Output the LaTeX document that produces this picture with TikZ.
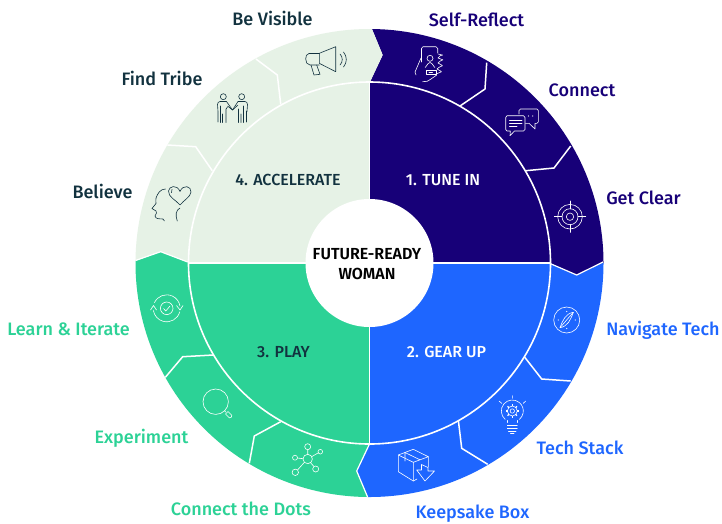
\documentclass[tikz,border=0pt]{standalone}
\usepackage{fontspec}
\setmainfont{Fira Sans}
\newfontfamily\lblfont{Fira Sans Medium}
\newfontfamily\boldfont{Fira Sans SemiBold}
\definecolor{navy}{HTML}{170078}
\definecolor{bluex}{HTML}{1E66FF}
\definecolor{greenx}{HTML}{2CD296}
\definecolor{palex}{HTML}{E6F2E6}
\definecolor{inkx}{HTML}{12323F}
\tikzset{
  sep/.style={draw=white,line width=1.5pt,line join=miter},
  icw/.style={draw=white,line width=.6pt,line cap=round,line join=round},
  icd/.style={draw=inkx,line width=.6pt,line cap=round,line join=round},
  lbl/.style={anchor=base,inner sep=0pt,font=\lblfont\fontsize{18}{20}\selectfont},
  sect/.style={anchor=base,inner sep=0pt,font=\lblfont\fontsize{16}{18}\selectfont},
  mid/.style={anchor=base,inner sep=0pt,font=\boldfont\fontsize{16}{18}\selectfont,text=black},
}
\begin{document}
\begin{tikzpicture}[x=1pt,y=-1pt]
\useasboundingbox (0,0) rectangle (722,523);
\fill[white] (0,0) rectangle (722,523);
\coordinate (c) at (369.5,263);
% outer ring
\begin{scope}
\clip (c) circle[radius=234pt];
\fill[navy] (370,82)--(382.7,55)--(372,29)--(371,0)--(700,0)--(700,263)--(602.7,263)--(576.7,275)--(550,263)--(c)--cycle;
\fill[bluex] (550,263)--(576.7,275)--(602.7,263)--(700,263)--(700,523)--(368,523)--(368,497)--(356.7,471)--(369,445)--(c)--cycle;
\fill[greenx] (369,445)--(356.7,471)--(368,497)--(368,523)--(0,523)--(0,261)--(135,261)--(160.7,251.7)--(187.7,262)--(c)--cycle;
\fill[palex] (187.7,262)--(160.7,251.7)--(135,261)--(0,261)--(0,0)--(371,0)--(372,29)--(382.7,55)--(370,82)--(c)--cycle;
\draw[sep] (486.7,62.7)--(485,89)--(460,106);
\draw[sep] (570.7,146)--(554,168)--(525.7,170.7);
\draw[sep] (570.7,381)--(541.7,379)--(524.3,356.7);
\draw[sep] (487.7,464.3)--(461.7,448.3)--(458.3,420);
\draw[sep] (165,377.7)--(182.7,356.7)--(213.3,355);
\draw[sep] (249.3,463.3)--(254.3,436)--(280.7,421.7);
\draw[sep] (167.3,145)--(195.7,146.7)--(212.3,170.7);
\draw[sep] (256,59)--(277.3,75)--(280.7,104);
\draw[sep,line width=1.2pt] (603,262)--(576.7,275)--(550,263.5);
\draw[sep,line width=1.2pt] (368,498)--(356.7,471)--(369,445);
\draw[sep,line width=1.2pt] (134,261)--(160.7,251.7)--(187.7,262);
\end{scope}
% inner quadrants
\begin{scope}
\clip (c) circle[radius=181pt];
\fill[navy] (c) rectangle (560,70);
\fill[bluex] (c) rectangle (560,450);
\fill[greenx] (c) rectangle (180,450);
\fill[palex] (c) rectangle (180,70);
\end{scope}
\draw[white,line width=1.6pt] (c) circle[radius=181pt];
\draw[white,line width=1.5pt] (369.5,82)--(369.5,444);
\draw[white,line width=1.5pt] (188.5,263)--(550.5,263);
\fill[white] (c) circle[radius=64pt];
% phone icon
\draw[icw] (421.5,62)--(421.5,48.5) to[out=-90,in=180] (423,46.7)--(436,46.7) to[out=0,in=-90] (437.7,48.5)--(437.7,53);
\draw[icw] (425,67) to[out=-90,in=180] (430,62.5) to[out=0,in=-90] (435,67);
\draw[icw] (430,58.3) circle[radius=3pt];
\draw[icw] (426,70.5)--(436,70.5)--(436,74)--(426,74)--cycle (429,72.3)--(432.5,72.3);
\draw[icw] (438,54) to[out=0,in=-30] (442.5,55) to[out=150,in=30] (438,58) to[out=-30,in=0] (442.5,60) to[out=180,in=30] (438,63) to[out=-30,in=0] (442,66) to[out=180,in=30] (437,69) to[out=-30,in=0] (441,72) to[out=180,in=0] (436,74);
\draw[icw] (421,58)--(415,72)--(416,75);
\draw[icw] (422.7,81.7) to[out=0,in=-135] (431,79) (431,79)--(436.7,75);
% chat icon
\draw[icw] (507,115.7)--(523.5,115.7) to[out=0,in=90] (525,117.5)--(525,129.5) to[out=-90,in=0] (523.5,131)--(514.5,131)--(510,135.7)--(510.3,131)--(507,131) to[out=180,in=-90] (505.7,129.5)--(505.7,117.5) to[out=90,in=180] cycle;
\draw[icw] (509.5,120)--(522,120) (509.5,123.3)--(522,123.3) (509.5,126.7)--(517,126.7);
\draw[icw] (519,114)--(519,110.5) to[out=90,in=180] (520.5,109)--(537,109) to[out=0,in=90] (538.3,110.5)--(538.3,122) to[out=-90,in=0] (537,123.3)--(535,123.3)--(535,129)--(529,123.3)--(525.5,123.3);
\fill[white] (528.5,116) circle[radius=.6pt] (532.7,116) circle[radius=.6pt];
% target icon
\draw[icw] (570,216.7) circle[radius=12.3pt] (570,216.7) circle[radius=8pt] (570,216.7) circle[radius=3.7pt];
\draw[icw] (570,201)--(570,209) (570,224.5)--(570,232.4) (554.3,216.7)--(562,216.7) (578,216.7)--(585.7,216.7);
% compass icon
\draw[icw] (566.7,320) circle[radius=13pt];
\draw[icw] (573.3,312.3) to[out=-170,in=70] (560,327.7) to[out=10,in=-110] cycle;
\draw[icw] (573.3,312.3)--(560,327.7);
\fill[white] (566.7,311.5) circle[radius=.6pt] (566.7,328.5) circle[radius=.6pt] (558.2,320) circle[radius=.6pt] (575.2,320) circle[radius=.6pt];
% bulb icon
\draw[icw] (507.3,422.5)--(507.3,420.5);
\draw[icw] (517.3,422.5)--(517.3,420.5);
\draw[icw] (512.3,411)++(-130:11pt) arc[start angle=230,delta angle=-280,radius=11pt];
\draw[icw] (512.3,411) circle[radius=5pt] (512.3,411) circle[radius=2.2pt];
\foreach \a in {0,45,...,315}{\draw[draw=white,line width=1.2pt] (512.3,411)++(\a:4.6pt)--++(\a:2pt);}
\draw[icw] (507.3,425)--(517.3,425) (507.3,428.3)--(517.3,428.3) (508.5,431)--(516,431) (510.5,433)--(514,433);
\draw[icw] (512.3,395.7)--(512.3,398.3) (499,401)--(501.7,403.3) (525.7,401)--(523.3,403.3);
% box icon
\draw[icw] (398.3,455)--(413.3,449.3)--(428.3,456.7)--(413.3,462.3)--cycle;
\draw[icw] (398.3,455)--(398.3,471.7)--(413.3,481)--(413.3,462.3) (428.3,456.7)--(428.3,467);
\draw[icw] (405,452.5)--(420,459.8) (405,452.5)--(405,461) (413.3,481)--(417,479);
\draw[icw] (416.7,470)--(421.5,470)--(421.5,464.5)--(428,467.5)--(428,471)--(434.5,471)--(425,481)--cycle;
% cycle icon
\draw[icw] (166.7,308.3) circle[radius=6.3pt];
\draw[icw] (166.7,308.3)++(155:13.5pt) arc[start angle=155,end angle=10,radius=13.5pt];
\draw[icw] (166.7,308.3)++(-15:13.5pt) arc[start angle=-15,end angle=-170,radius=13.5pt];
\draw[icw] (150.5,310)--(153.5,305.5)--(156.5,310);
\draw[icw] (176.5,305.5)--(180,310)--(183,305.5);
\draw[icw] (163.5,308.5)--(165.8,311)--(170,306);
% magnifier icon
\draw[icw] (215.7,401.7) circle[radius=12.7pt];
\draw[icw] (224.5,410.7)--(226,412.2);
\draw[icw] (225.5,414)--(228,411.5)--(231.8,415.3) to[out=-45,in=-45] (229.3,417.8)--cycle;
% network icon
\draw[icw] (307.7,459) circle[radius=4.7pt] (307.7,446.7) circle[radius=3pt] (320.3,451.7) circle[radius=2.3pt] (315.7,469) circle[radius=3pt] (295.3,472.3) circle[radius=3.2pt] (295,457.7) circle[radius=2.5pt];
\draw[icw] (307.7,454.3)--(307.7,449.7) (311.8,456.6)--(318.3,452.8) (310.5,462.7)--(314,466.5) (304.4,462.3)--(297.5,470) (303,458.7)--(297.5,458);
% head+heart icon
\draw[icd] (180,205) .. controls (176,200) and (168,197) .. (168.5,191) .. controls (169,186) and (177,184) .. (180,191.5) .. controls (183,184) and (191.5,186) .. (191,192) .. controls (190.5,197) and (184,200) .. (180,205);
\draw[icd] (172,189.5)--(171.5,192.5);
\draw[icd] (165.5,189) to[out=180,in=70] (156,198) to[out=-110,in=80] (156,203.5)--(152,208.5)--(156,211) (156,211)--(156.5,213) to[out=-90,in=90] (155,216) to[out=-80,in=175] (163,219)--(164.5,221);
\draw[icd] (177.3,221) .. controls (175,215) and (176,210) .. (180,208);
% people icon
\draw[icd] (223.3,96.7) circle[radius=3pt] (241.7,96.7) circle[radius=3pt];
\draw[icd] (218,122)--(218,111.5)--(217.5,104.5) to[out=90,in=180] (220,101.5)--(226.5,101.5)--(232.5,110)--(238,101.5)--(245,101.5) to[out=0,in=90] (247.5,104.5)--(247,111.5);
\draw[icd] (220.5,122.5)--(220.5,106) (226,122.5)--(226,109)--(227.5,107) (222.5,122.5)--(222.5,114) (238.5,122.5)--(238.5,109)(243.5,122.5)--(243.5,106) (246.5,122)--(246.5,111) (241,122.5)--(241,114);
\draw[icd] (232.5,110)--(238,105) (232.5,110)--(227.5,106);
% megaphone icon
\draw[icd] (319.3,53.3)--(335.7,46.7)--(335.7,71.7)--(319.3,63.3)--cycle;
\draw[icd] (319.3,53.5)--(309,53.5) to[out=180,in=90] (305.7,59) to[out=-90,in=180] (310,65)--(319.3,65);
\draw[icd] (311,65)--(314,75)--(320,74.3)--(316.7,65);
\draw[icd] (340,54) to[out=-45,in=45] (340,65);
\draw[icd] (343.5,52) to[out=-50,in=50] (343.5,67);
% center + sector labels
\node[mid] (ctr1) at (367,259.5) {FUTURE-READY};
\node[mid] (ctr2) at (367,279.5) {WOMAN};
\node[sect,text=white] (s1) at (443,185.5) {1. TUNE IN};
\node[sect,text=white] (s2) at (446.5,357.5) {2. GEAR UP};
\node[sect,text=inkx] (s3) at (283.5,357.5) {3. PLAY};
\node[sect,text=inkx] (s4) at (288,185.5) {4. ACCELERATE};
% outer labels
\node[lbl,text=navy] (l1) at (476.5,26) {Self-Reflect};
\node[lbl,text=navy] (l2) at (582,96) {Connect};
\node[lbl,text=navy] (l3) at (643.5,204) {Get Clear};
\node[lbl,text=bluex] (l4) at (663,335) {Navigate Tech};
\node[lbl,text=bluex] (l5) at (580,454) {Tech Stack};
\node[lbl,text=bluex] (l6) at (472.5,518) {Keepsake Box};
\node[lbl,text=greenx] (l7) at (241,515) {Connect the Dots};
\node[lbl,text=greenx] (l8) at (141.5,443) {Experiment};
\node[lbl,text=greenx] (l9) at (68.5,335) {Learn \& Iterate};
\node[lbl,text=inkx] (l10) at (102.5,198) {Believe};
\node[lbl,text=inkx] (l11) at (162,85) {Find Tribe};
\node[lbl,text=inkx] (l12) at (272.5,25) {Be Visible};
\end{tikzpicture}
\end{document}
